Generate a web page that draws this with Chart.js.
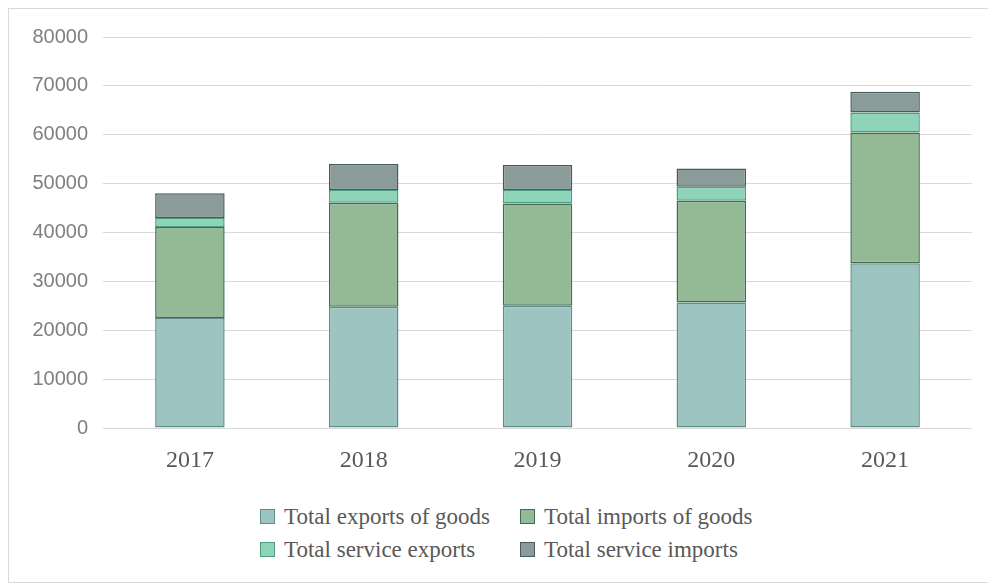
<!DOCTYPE html>
<html>
<head>
<meta charset="utf-8">
<script src="https://cdn.jsdelivr.net/npm/chart.js@4.4.1/dist/chart.umd.min.js"></script>
<style>
    body { margin: 0; background: #fff; width: 988px; height: 586px; overflow: hidden; position: relative; }
    #marco { position: absolute; left: 8px; top: 8px; width: 990px; height: 575px; border: 1px solid #d9d9d9; box-sizing: border-box; }
    #caja { position: absolute; left: 0; top: 0; width: 988px; height: 480px; }
    #leyenda { position: absolute; left: 260px; top: 500px; font-family: "Liberation Serif", serif; font-size: 23px; color: #595959; }
    .fila { display: flex; height: 33px; align-items: center; }
    .item { display: flex; align-items: center; }
    .item.c1 { width: 260px; }
    .cuadro { width: 15px; height: 15px; margin-right: 9px; box-sizing: border-box; border: 1px solid; }
</style>
</head>
<body>
<div id="marco"></div>
<div id="caja"><canvas id="grafico"></canvas></div>
<div id="leyenda"></div>

<script>
const anios = ['2017', '2018', '2019', '2020', '2021'];
const exportBienes = [22500, 24800, 25000, 25700, 33700];
const importBienes = [18600, 21300, 20950, 20800, 26750];
const exportServicios = [1850, 2600, 2750, 2850, 4100];
const importServicios = [5100, 5300, 5100, 3750, 4250];
const ticksY = [0, 10000, 20000, 30000, 40000, 50000, 60000, 70000, 80000];

const series = [
    { label: 'Total exports of goods', data: exportBienes, fondo: '#9cc4c0', borde: '#5f8c88' },
    { label: 'Total imports of goods', data: importBienes, fondo: '#93b995', borde: '#426c52' },
    { label: 'Total service exports', data: exportServicios, fondo: '#8dd4b9', borde: '#4f9c80' },
    { label: 'Total service imports', data: importServicios, fondo: '#8b9b9a', borde: '#445c5b' }
];

const grafico = new Chart(document.getElementById('grafico'), {
    type: 'bar',
    data: {
        labels: anios,
        datasets: series.map(s => ({
            label: s.label,
            data: s.data,
            backgroundColor: s.fondo,
            borderColor: s.borde,
            borderWidth: 1.5,
            borderSkipped: false,
            barPercentage: 0.4,
            categoryPercentage: 1.0
        }))
    },
    options: {
        responsive: true,
        maintainAspectRatio: false,
        animation: false,
        layout: { padding: { top: 37, right: 16, left: 0, bottom: 0 } },
        plugins: {
            legend: { display: false },
            tooltip: { enabled: false }
        },
        scales: {
            x: {
                stacked: true,
                grid: { display: false },
                border: { display: false },
                ticks: {
                    color: '#595959',
                    padding: 10,
                    font: { family: 'Liberation Serif', size: 24 }
                },
                afterFit: function(escala) { escala.height = 52; }
            },
            y: {
                stacked: true,
                min: 0,
                max: 80000,
                afterBuildTicks: function(escala) { escala.ticks = ticksY.map(v => ({ value: v })); },
                grid: { color: '#d9d9d9', lineWidth: 1, drawTicks: false },
                border: { display: false },
                ticks: {
                    color: '#7f7f7f',
                    padding: 15,
                    font: { family: 'Liberation Sans', size: 20 },
                    callback: function(valor) { return String(valor); }
                },
                afterFit: function(escala) { escala.width = 103; }
            }
        }
    }
});

const leyenda = document.getElementById('leyenda');
for (let f = 0; f < 2; f++) {
    const fila = document.createElement('div');
    fila.className = 'fila';
    for (let c = 0; c < 2; c++) {
        const s = series[f * 2 + c];
        const item = document.createElement('div');
        item.className = 'item' + (c === 0 ? ' c1' : '');
        const cuadro = document.createElement('span');
        cuadro.className = 'cuadro';
        cuadro.style.background = s.fondo;
        cuadro.style.borderColor = s.borde;
        const texto = document.createElement('span');
        texto.textContent = s.label;
        item.appendChild(cuadro);
        item.appendChild(texto);
        fila.appendChild(item);
    }
    leyenda.appendChild(fila);
}
</script>
</body>
</html>
